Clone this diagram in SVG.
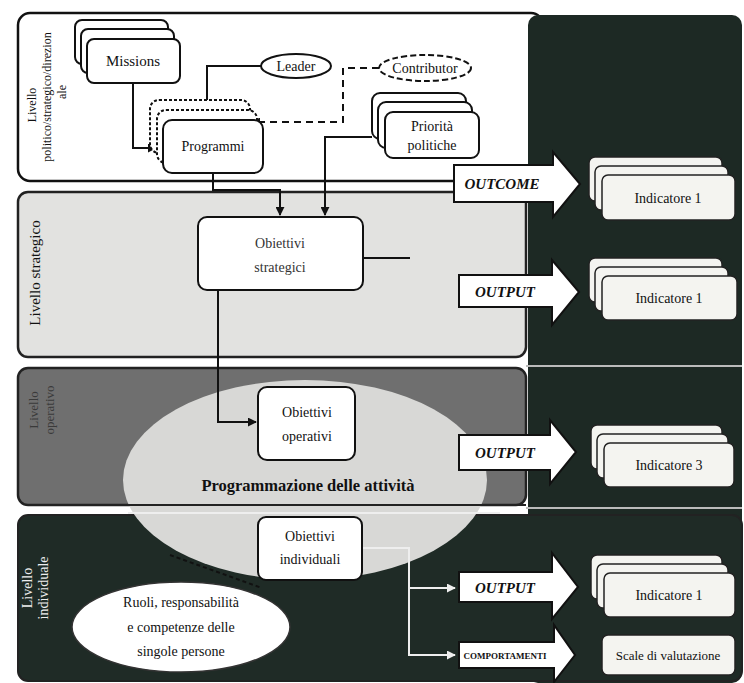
<svg xmlns="http://www.w3.org/2000/svg" width="744" height="683" viewBox="0 0 744 683">
<style>
  text{font-family:"Liberation Serif","DejaVu Serif",serif;fill:#111}
  .card{fill:#fff;stroke:#111;stroke-width:2}
  .rcard{fill:#f4f4f0;stroke:#222;stroke-width:1.5}
  .lbl{font-size:14px;text-anchor:middle}
  .side{font-size:13px;text-anchor:middle}
  .big{fill:#fff;stroke:#111;stroke-width:2}
  .bt{font-size:15px;font-weight:bold;font-style:italic;text-anchor:middle}
  .ln{fill:none;stroke:#111;stroke-width:2}
  .lw{fill:none;stroke:#eee;stroke-width:2}
</style>
<defs>
  <marker id="ah" viewBox="0 0 10 10" refX="9" refY="5" markerWidth="9" markerHeight="9" markerUnits="userSpaceOnUse" orient="auto">
    <path d="M0,0 L10,5 L0,10 z" fill="#111"/>
  </marker>
  <marker id="ahw" viewBox="0 0 10 10" refX="9" refY="5" markerWidth="9" markerHeight="9" markerUnits="userSpaceOnUse" orient="auto">
    <path d="M0,0 L10,5 L0,10 z" fill="#eee"/>
  </marker>
</defs>
<rect width="744" height="683" fill="#fff"/>
<g id="bands">
  <rect x="18" y="13" width="525" height="168" rx="12" fill="#fff" stroke="#111" stroke-width="2.5"/>
  <rect x="18" y="192" width="508" height="165" rx="10" fill="#e2e2e0" stroke="#222" stroke-width="2.5"/>
  <rect x="528" y="15" width="214" height="668" rx="10" fill="#1d2924"/>
  <rect x="18" y="368" width="508" height="137" rx="10" fill="#6f6f6f" stroke="#222" stroke-width="2.5"/>
  <line x1="526" y1="366" x2="742" y2="366" stroke="#bbb" stroke-width="2"/>
  <line x1="526" y1="508" x2="742" y2="508" stroke="#bbb" stroke-width="2"/>
  <rect x="18" y="515" width="724" height="166" rx="10" fill="#1f2b26" stroke="#222" stroke-width="2"/>
</g>
<g id="side-labels">
  <text class="side" transform="translate(36,105) rotate(-90)" style="font-size:12px">Livello</text>
  <text class="side" transform="translate(51,97) rotate(-90)" style="font-size:12px">politico/strategico/direzion</text>
  <text class="side" transform="translate(66,92) rotate(-90)" style="font-size:12px">ale</text>
  <text class="side" transform="translate(40,273) rotate(-90)" style="font-size:15px">Livello strategico</text>
  <text class="side" transform="translate(38,410) rotate(-90)" style="fill:#3a3a3a">Livello</text>
  <text class="side" transform="translate(54,410) rotate(-90)" style="fill:#3a3a3a">operativo</text>
  <text class="side" transform="translate(32,588) rotate(-90)" style="fill:#eee;font-size:14px">Livello</text>
  <text class="side" transform="translate(48,588) rotate(-90)" style="fill:#eee;font-size:14px">individuale</text>
</g>
<g id="programmazione">
  <ellipse cx="305" cy="480" rx="182" ry="100" fill="#d8d8d6"/>
  <line x1="124" y1="505" x2="526" y2="505" stroke="#222" stroke-width="2"/>
  <line x1="128" y1="513" x2="500" y2="513" stroke="#eee" stroke-width="2"/>
  <text x="308" y="491" text-anchor="middle" style="font-size:16.5px;font-weight:bold">Programmazione delle attività</text>
</g>
<g id="connectors">
  <path class="ln" d="M261,66 H207 V109" marker-end="url(#ah)"/>
  <path class="ln" d="M133,83 V148 H156" marker-end="url(#ah)"/>
  <path class="ln" d="M379,68 H343 V122 H252" stroke-dasharray="7,5" marker-end="url(#ah)"/>
  <path class="ln" d="M372,137 H325 V215" marker-end="url(#ah)"/>
  <path class="ln" d="M213,173 V190 H280 V215" marker-end="url(#ah)"/>
  <path class="ln" d="M363,258 H410" stroke-width="1.5"/>
  <path class="ln" d="M218,290 V422 H256" marker-end="url(#ah)"/>
  <path class="ln" d="M170,555 L262,588" stroke-dasharray="4,3"/>
  <path class="lw" d="M362,548 H409 V655 H455" marker-end="url(#ahw)"/>
  <path class="lw" d="M409,588 H455" marker-end="url(#ahw)"/>
</g>
<g id="missions">
  <rect class="card" x="75" y="20" width="93" height="44" rx="7"/>
  <rect class="card" x="81" y="29" width="93" height="44" rx="7"/>
  <rect class="card" x="87" y="39" width="93" height="44" rx="7"/>
  <text class="lbl" x="133" y="66" style="font-size:15px">Missions</text>
</g>
<g id="leader">
  <ellipse cx="296" cy="66" rx="35" ry="12" fill="#fff" stroke="#111" stroke-width="2"/>
  <text class="lbl" x="296" y="71">Leader</text>
</g>
<g id="contributor">
  <ellipse cx="425" cy="68" rx="46" ry="13" fill="#fff" stroke="#111" stroke-width="2" stroke-dasharray="6,3"/>
  <text class="lbl" x="425" y="73">Contributor</text>
</g>
<g id="programmi">
  <rect class="card" x="150" y="100" width="100" height="53" rx="9" stroke-dasharray="3,2"/>
  <rect class="card" x="157" y="110" width="100" height="53" rx="9" stroke-dasharray="3,2"/>
  <rect class="card" x="163" y="120" width="100" height="53" rx="9"/>
  <text class="lbl" x="213" y="151">Programmi</text>
</g>
<g id="priorita">
  <rect class="card" x="372" y="93" width="94" height="46" rx="8"/>
  <rect class="card" x="378" y="102" width="94" height="46" rx="8"/>
  <rect class="card" x="385" y="112" width="94" height="46" rx="8"/>
  <text class="lbl" x="432" y="131">Priorità</text>
  <text class="lbl" x="432" y="150">politiche</text>
</g>
<g id="obiettivi-strategici">
  <rect class="card" x="198" y="217" width="165" height="73" rx="9"/>
  <text class="lbl" x="280" y="248" style="fill:#333">Obiettivi</text>
  <text class="lbl" x="280" y="272" style="fill:#333">strategici</text>
</g>
<g id="obiettivi-operativi">
  <rect class="card" x="258" y="387" width="97" height="73" rx="9"/>
  <text class="lbl" x="307" y="417">Obiettivi</text>
  <text class="lbl" x="307" y="441">operativi</text>
</g>
<g id="obiettivi-individuali">
  <rect class="card" x="258" y="517" width="104" height="63" rx="8"/>
  <text class="lbl" x="310" y="541">Obiettivi</text>
  <text class="lbl" x="310" y="564">individuali</text>
</g>
<g id="ruoli">
  <ellipse cx="181" cy="627" rx="109" ry="45" fill="#fff" stroke="#333" stroke-width="1.5"/>
  <text class="lbl" x="181" y="607">Ruoli, responsabilità</text>
  <text class="lbl" x="181" y="632">e competenze delle</text>
  <text class="lbl" x="181" y="656">singole persone</text>
</g>
<g id="arrow-outcome">
  <path class="big" d="M454,165 H553 V152 L580,184 L553,217 V202 H454 Z"/>
  <text class="bt" x="502" y="189">OUTCOME</text>
</g>
<g id="arrow-output-1">
  <path class="big" d="M459,275 H552 V260 L579,292 L552,325 V307 H459 Z"/>
  <text class="bt" x="505" y="297">OUTPUT</text>
</g>
<g id="arrow-output-2">
  <path class="big" d="M459,435 H550 V420 L576,452 L550,484 V470 H459 Z"/>
  <text class="bt" x="505" y="458">OUTPUT</text>
</g>
<g id="arrow-output-3">
  <path class="big" d="M459,572 H552 V553 L578,587 L552,619 V602 H459 Z" stroke="#ddd"/>
  <text class="bt" x="505" y="593">OUTPUT</text>
</g>
<g id="arrow-comportamenti">
  <path class="big" d="M459,642 H554 V625 L575,655 L554,682 V668 H459 Z" stroke="#ddd"/>
  <text x="505" y="659" text-anchor="middle" style="font-size:9px;font-weight:bold">COMPORTAMENTI</text>
</g>
<g id="indicatore-outcome">
  <rect class="rcard" x="589" y="157" width="133" height="44" rx="6"/>
  <rect class="rcard" x="595" y="166" width="133" height="44" rx="6"/>
  <rect class="rcard" x="602" y="175" width="133" height="45" rx="6"/>
  <text class="lbl" x="668" y="203">Indicatore 1</text>
</g>
<g id="indicatore-output-1">
  <rect class="rcard" x="589" y="258" width="133" height="44" rx="6"/>
  <rect class="rcard" x="595" y="267" width="133" height="44" rx="6"/>
  <rect class="rcard" x="602" y="276" width="135" height="44" rx="6"/>
  <text class="lbl" x="669" y="303">Indicatore 1</text>
</g>
<g id="indicatore-output-2">
  <rect class="rcard" x="591" y="425" width="131" height="44" rx="6"/>
  <rect class="rcard" x="597" y="434" width="131" height="44" rx="6"/>
  <rect class="rcard" x="604" y="443" width="130" height="44" rx="6"/>
  <text class="lbl" x="669" y="470">Indicatore 3</text>
</g>
<g id="indicatore-output-3">
  <rect class="rcard" x="591" y="555" width="131" height="44" rx="6"/>
  <rect class="rcard" x="597" y="564" width="131" height="44" rx="6"/>
  <rect class="rcard" x="604" y="573" width="131" height="44" rx="6"/>
  <text class="lbl" x="669" y="600">Indicatore 1</text>
</g>
<g id="scale-valutazione">
  <rect class="rcard" x="602" y="635" width="133" height="40" rx="6"/>
  <text class="lbl" x="668" y="660" style="font-size:13px">Scale di valutazione</text>
</g>
</svg>
